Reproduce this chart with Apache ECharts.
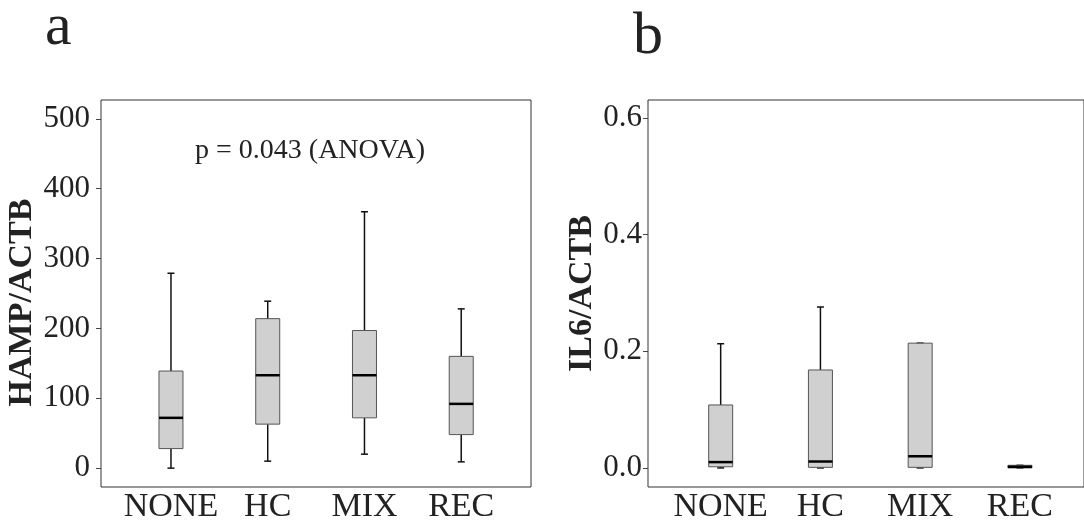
<!DOCTYPE html>
<html>
<head>
<meta charset="utf-8">
<script src="https://cdn.jsdelivr.net/npm/echarts@6/dist/echarts.min.js"></script>
<style>
  html, body { margin: 0; padding: 0; background: #fff; }
  #main { width: 1084px; height: 524px; }
</style>
</head>
<body>
<div id="main"></div>
<script>
// groups
let categories = ['NONE', 'HC', 'MIX', 'REC'];

// panel a: HAMP/ACTB (min, q1, median, q3, max)
let hampMin = [0, 10, 20, 9];
let hampQ1 = [28, 63, 72, 48];
let hampMed = [72, 133, 133, 92];
let hampQ3 = [139, 214, 197, 160];
let hampMax = [279, 239, 367, 228];
let hampTicks = [0, 100, 200, 300, 400, 500];

// panel b: IL6/ACTB
let il6Min = [0, 0, 0, 0];
let il6Q1 = [0.002, 0.001, 0.001, 0];
let il6Med = [0.010, 0.011, 0.020, 0.002];
let il6Q3 = [0.108, 0.168, 0.214, 0.0045];
let il6Max = [0.213, 0.276, 0.214, 0.0045];
let il6Ticks = [0, 0.2, 0.4, 0.6];

let font = 'Liberation Serif';

function rows(mn, q1, md, q3, mx) {
    return categories.map(function (c, i) {
        return [i, mn[i], q1[i], md[i], q3[i], mx[i]];
    });
}

// box + whiskers with short caps, thick median
function renderBox(params, api) {
    let idx = api.value(0);
    let lo = api.coord([idx, api.value(1)]);
    let q1 = api.coord([idx, api.value(2)]);
    let md = api.coord([idx, api.value(3)]);
    let q3 = api.coord([idx, api.value(4)]);
    let hi = api.coord([idx, api.value(5)]);
    let x = lo[0];
    let hw = 12, cw = 3.5;
    let line = function (x1, y1, x2, y2, w, c) {
        return { type: 'line', shape: { x1: x1, y1: y1, x2: x2, y2: y2 }, style: { stroke: c, lineWidth: w } };
    };
    return {
        type: 'group',
        children: [
            line(x, q3[1], x, hi[1], 1.5, '#111'),
            line(x, lo[1], x, q1[1], 1.5, '#111'),
            line(x - cw, hi[1], x + cw, hi[1], 1.5, '#111'),
            line(x - cw, lo[1], x + cw, lo[1], 1.5, '#111'),
            {
                type: 'rect',
                shape: { x: x - hw, y: q3[1], width: hw * 2, height: q1[1] - q3[1] },
                style: { fill: '#d0d0d0', stroke: '#555', lineWidth: 1 }
            },
            line(x - hw, md[1], x + hw, md[1], 2.5, '#000')
        ]
    };
}

function frameY(min, max, ticks, fmt, name, gap, margin, pad) {
    return {
        type: 'value',
        gridIndex: 0,
        min: min,
        max: max,
        name: name,
        nameLocation: 'middle',
        nameRotate: 90,
        nameGap: gap,
        nameTextStyle: { fontFamily: font, fontSize: 34, fontWeight: 'bold', color: '#222', padding: pad },
        axisLine: { show: false },
        axisTick: { show: true, length: 5, customValues: ticks, lineStyle: { color: '#444' } },
        axisLabel: {
            customValues: ticks,
            formatter: fmt,
            margin: margin,
            fontFamily: font,
            fontSize: 31,
            color: '#222'
        },
        splitLine: { show: false }
    };
}

function dataX(grid) {
    return {
        type: 'category',
        gridIndex: grid,
        data: categories,
        axisLine: { show: false },
        axisTick: { show: false },
        axisLabel: { interval: 0, margin: 3, fontFamily: font, fontSize: 34, color: '#222' }
    };
}

let chart = echarts.init(document.getElementById('main'));
let option = {
    backgroundColor: '#fff',
    animation: false,
    title: [
        { text: 'a', left: 45, top: -2, padding: 0, textStyle: { fontFamily: font, fontSize: 60, fontWeight: 'normal', color: '#222' } },
        { text: 'b', left: 633, top: 7, padding: 0, textStyle: { fontFamily: font, fontSize: 60, fontWeight: 'normal', color: '#222' } },
        { text: 'p = 0.043 (ANOVA)', left: 310, textAlign: 'center', top: 137, padding: 0, textStyle: { fontFamily: font, fontSize: 28, fontWeight: 'normal', color: '#222' } }
    ],
    grid: [
        // frames
        { left: 101, top: 100, width: 430, height: 387, show: true, borderColor: '#333', borderWidth: 1 },
        { left: 648, top: 100, width: 445, height: 387, show: true, borderColor: '#333', borderWidth: 1 },
        // data areas
        { left: 122.6, top: 100, width: 387, height: 387 },
        { left: 670.8, top: 100, width: 399, height: 387 }
    ],
    xAxis: [
        { type: 'value', gridIndex: 0, min: 0, max: 1, show: false },
        { type: 'value', gridIndex: 1, min: 0, max: 1, show: false },
        dataX(2),
        dataX(3)
    ],
    yAxis: [
        frameY(-27, 527, hampTicks, function (v) { return String(v); }, 'HAMP/ACTB', 62, 11, [0, 18, 0, 0]),
        Object.assign(frameY(-0.0327, 0.631, il6Ticks, function (v) { return v.toFixed(1); }, 'IL6/ACTB', 43, 6, 0), { gridIndex: 1 }),
        { type: 'value', gridIndex: 2, min: -27, max: 527, show: false },
        { type: 'value', gridIndex: 3, min: -0.0327, max: 0.631, show: false }
    ],
    series: [
        {
            name: 'HAMP/ACTB',
            type: 'custom',
            xAxisIndex: 2,
            yAxisIndex: 2,
            renderItem: renderBox,
            encode: { x: 0, y: [1, 2, 3, 4, 5] },
            data: rows(hampMin, hampQ1, hampMed, hampQ3, hampMax)
        },
        {
            name: 'IL6/ACTB',
            type: 'custom',
            xAxisIndex: 3,
            yAxisIndex: 3,
            renderItem: renderBox,
            encode: { x: 0, y: [1, 2, 3, 4, 5] },
            data: rows(il6Min, il6Q1, il6Med, il6Q3, il6Max)
        }
    ]
};
chart.setOption(option);
</script>
</body>
</html>
